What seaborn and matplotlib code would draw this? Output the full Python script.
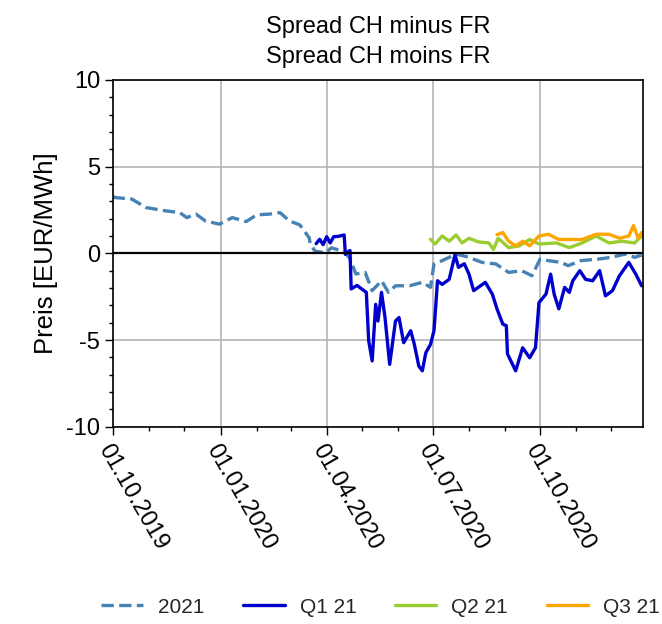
import matplotlib
matplotlib.use("Agg")
import pandas as pd
import matplotlib.pyplot as plt
import matplotlib.dates as mdates
import seaborn as sns

# Werte
dates_2021 = ["2019-10-01", "2019-10-02", "2019-10-17", "2019-10-29", "2019-11-15", "2019-11-27",
              "2019-12-03", "2019-12-11", "2019-12-19", "2019-12-31", "2020-01-11", "2020-01-23",
              "2020-02-01", "2020-02-12", "2020-02-21", "2020-02-29", "2020-03-09", "2020-03-17",
              "2020-03-18", "2020-03-22", "2020-03-31", "2020-04-05", "2020-04-16", "2020-04-21",
              "2020-04-26", "2020-05-04", "2020-05-10", "2020-05-18", "2020-05-24", "2020-05-30",
              "2020-06-11", "2020-06-22", "2020-06-29", "2020-07-02", "2020-07-09", "2020-07-21",
              "2020-08-01", "2020-08-12", "2020-08-24", "2020-09-04", "2020-09-15", "2020-09-24",
              "2020-10-01", "2020-10-08", "2020-10-19", "2020-10-25", "2020-11-05", "2020-11-20",
              "2020-12-01", "2020-12-13", "2020-12-21", "2020-12-27"]
vals_2021 = [3.3, 3.22, 3.13, 2.64, 2.45, 2.35,
             2.06, 2.26, 1.87, 1.68, 2.06, 1.83,
             2.22, 2.26, 2.35, 1.87, 1.64, 0.9,
             0.52, 0.13, 0.02, 0.32, 0.1, -0.3,
             -1.19, -1.1, -2.15, -1.58, -2.25, -1.87,
             -1.87, -1.67, -1.96, -0.61, -0.42, -0.04,
             -0.23, -0.52, -0.61, -1.1, -1.0, -1.29,
             -0.33, -0.42, -0.52, -0.71, -0.42, -0.33,
             -0.23, -0.04, -0.23, -0.1]

dates_q1 = ["2020-03-23", "2020-03-26", "2020-03-29", "2020-04-01", "2020-04-04", "2020-04-07",
            "2020-04-11", "2020-04-16", "2020-04-17", "2020-04-20", "2020-04-21", "2020-04-22",
            "2020-04-27", "2020-05-01", "2020-05-05", "2020-05-07", "2020-05-10", "2020-05-13",
            "2020-05-15", "2020-05-18", "2020-05-21", "2020-05-25", "2020-05-30", "2020-06-02",
            "2020-06-06", "2020-06-12", "2020-06-15", "2020-06-19", "2020-06-22", "2020-06-25",
            "2020-06-29", "2020-07-02", "2020-07-05", "2020-07-09", "2020-07-15", "2020-07-20",
            "2020-07-23", "2020-07-28", "2020-08-01", "2020-08-05", "2020-08-09", "2020-08-15",
            "2020-08-21", "2020-08-25", "2020-08-30", "2020-09-02", "2020-09-03", "2020-09-10",
            "2020-09-16", "2020-09-22", "2020-09-27", "2020-09-30", "2020-10-06", "2020-10-10",
            "2020-10-13", "2020-10-17", "2020-10-22", "2020-10-26", "2020-10-29", "2020-11-04",
            "2020-11-09", "2020-11-15", "2020-11-21", "2020-11-26", "2020-12-02", "2020-12-08",
            "2020-12-13", "2020-12-16", "2020-12-22", "2020-12-27"]
vals_q1 = [0.56, 0.81, 0.5, 0.96, 0.6, 0.96,
           0.98, 1.06, -0.06, 0.13, 0.16, -2.05,
           -1.85, -2.05, -2.25, -5.03, -6.2, -2.94,
           -3.9, -2.25, -3.69, -6.4, -3.9, -3.7,
           -5.15, -4.46, -5.2, -6.5, -6.77, -5.73,
           -5.25, -4.46, -1.58, -1.79, -1.5, -0.08,
           -0.81, -0.6, -1.2, -2.15, -1.96, -1.67,
           -2.35, -3.2, -4.08, -4.17, -5.8, -6.77,
           -5.44, -6.02, -5.44, -2.84, -2.35, -1.2,
           -2.35, -3.2, -1.96, -2.25, -1.58, -1.0,
           -1.5, -1.58, -1.0, -2.45, -2.15, -1.29,
           -0.81, -0.52, -1.2, -1.87]

dates_q2 = ["2020-06-29", "2020-07-03", "2020-07-09", "2020-07-15", "2020-07-21", "2020-07-26",
            "2020-08-01", "2020-08-09", "2020-08-18", "2020-08-22", "2020-08-26", "2020-09-04",
            "2020-09-13", "2020-09-22", "2020-09-30", "2020-10-15", "2020-10-26", "2020-11-06",
            "2020-11-18", "2020-11-29", "2020-12-10", "2020-12-21", "2020-12-27"]
vals_q2 = [0.81, 0.54, 1.0, 0.7, 1.06, 0.6,
           0.87, 0.66, 0.6, 0.23, 0.87, 0.33,
           0.43, 0.8, 0.54, 0.6, 0.33, 0.6,
           1.0, 0.6, 0.7, 0.6, 1.0]

dates_q3 = ["2020-08-25", "2020-08-30", "2020-09-04", "2020-09-10", "2020-09-16", "2020-09-22",
            "2020-09-30", "2020-10-08", "2020-10-17", "2020-10-26", "2020-11-06", "2020-11-18",
            "2020-11-29", "2020-12-08", "2020-12-16", "2020-12-20", "2020-12-24", "2020-12-27"]
vals_q3 = [1.08, 1.2, 0.7, 0.43, 0.7, 0.43,
           1.0, 1.1, 0.8, 0.8, 0.8, 1.1,
           1.1, 0.87, 1.0, 1.6, 0.87, 1.2]

series = [
    ("2021", dates_2021, vals_2021, "#4682B4", "--"),
    ("Q1 21", dates_q1, vals_q1, "#0000CD", "-"),
    ("Q2 21", dates_q2, vals_q2, "#9ACD32", "-"),
    ("Q3 21", dates_q3, vals_q3, "#FFA500", "-"),
]

sns.set_theme(style="ticks")
plt.rcParams["font.family"] = ["Liberation Sans", "DejaVu Sans"]
plt.rcParams["axes.unicode_minus"] = False

fig = plt.figure(figsize=(6.62, 6.24), dpi=100)
ax = fig.add_axes([0.171, 0.316, 0.8, 0.556])

for name, d, v, col, ls in series:
    df = pd.DataFrame({"Datum": pd.to_datetime(d), "Wert": v})
    sns.lineplot(data=df, x="Datum", y="Wert", ax=ax, color=col, linestyle=ls,
                 linewidth=2.4, label=name, legend=False)

ax.axhline(0, color="black", linewidth=1.6, zorder=3)

ax.set_xlim(pd.Timestamp("2019-10-01"), pd.Timestamp("2020-12-28"))
ax.set_ylim(-10, 10)
ax.set_yticks([-10, -5, 0, 5, 10])
ax.yaxis.set_minor_locator(matplotlib.ticker.MultipleLocator(1))
ax.xaxis.set_major_locator(mdates.MonthLocator(bymonth=[1, 4, 7, 10]))
ax.xaxis.set_minor_locator(mdates.MonthLocator())
ax.xaxis.set_major_formatter(mdates.DateFormatter("%d.%m.%Y"))

ax.grid(True, which="major", color="#b4b4b4", linewidth=1.2)
ax.tick_params(axis="both", which="major", length=6, width=1, color="black",
               labelsize=17, labelcolor="black")
ax.tick_params(axis="both", which="minor", length=3, width=1, color="black")
for lab in ax.get_xticklabels():
    lab.set_rotation(-60)
    lab.set_ha("left")
    lab.set_va("top")
    lab.set_rotation_mode("anchor")

for sp in ax.spines.values():
    sp.set_color("black")
    sp.set_linewidth(1.2)

ax.set_xlabel("")
ax.set_ylabel("Preis [EUR/MWh]", fontsize=18.5, color="black", labelpad=6)
ax.set_title("Spread CH minus FR\nSpread CH moins FR", fontsize=17, color="black",
             pad=12, linespacing=1.5)

handles, labels = ax.get_legend_handles_labels()
fig.legend(handles, labels, loc="center", bbox_to_anchor=(0.575, 0.027), ncol=4,
           frameon=False, fontsize=15, handlelength=2.0, handletextpad=0.72,
           columnspacing=1.85)

fig.savefig("out.png", dpi=100)
